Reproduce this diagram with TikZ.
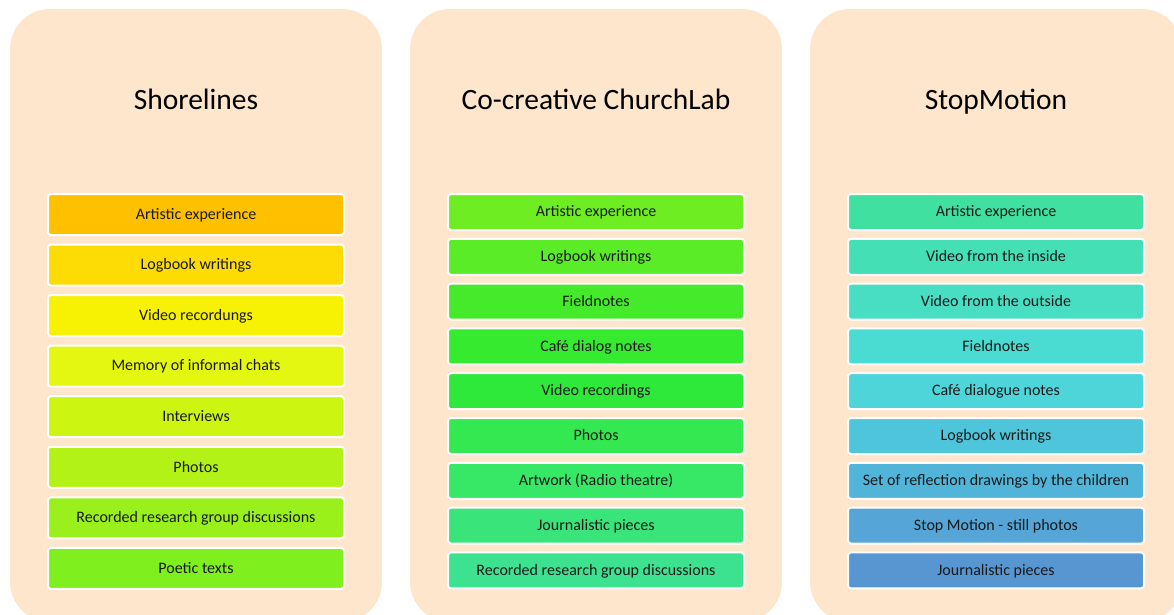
\documentclass[tikz,border=0pt]{standalone}
\usepackage{fontspec}
\setmainfont{Carlito}
\begin{document}
\begin{tikzpicture}[x=1pt,y=-1pt,
  panel/.style={fill=panelbg,rounded corners=40pt},
  title/.style={font=\fontsize{29.5}{32}\selectfont,anchor=base},
  item/.style={draw=white,line width=2pt,rounded corners=3pt,
    minimum width=296pt,inner sep=0pt,font=\fontsize{16}{18}\selectfont,
    text height=12.5pt,text depth=3pt,text=black!90,anchor=center},
  tall/.style={item,minimum height=41pt},
  short/.style={item,minimum height=36pt}]
\definecolor{panelbg}{HTML}{FEE6CC}
% Shorelines palette
\definecolor{sa}{HTML}{FFC000}
\definecolor{sb}{HTML}{FDDC05}
\definecolor{sc}{HTML}{F7F204}
\definecolor{sd}{HTML}{E4F710}
\definecolor{se}{HTML}{CCF512}
\definecolor{sf}{HTML}{B3F216}
\definecolor{sg}{HTML}{9AF01A}
\definecolor{sh}{HTML}{80EF1E}
% ChurchLab palette
\definecolor{ca}{HTML}{6EEE22}
\definecolor{cb}{HTML}{5AEC27}
\definecolor{cc}{HTML}{45EB2A}
\definecolor{cd}{HTML}{36EA2F}
\definecolor{ce}{HTML}{2EE83A}
\definecolor{cf}{HTML}{34E852}
\definecolor{cg}{HTML}{36E866}
\definecolor{ch}{HTML}{39E47A}
\definecolor{ci}{HTML}{3DE290}
% StopMotion palette
\definecolor{ma}{HTML}{40E0A0}
\definecolor{mb}{HTML}{45DFB5}
\definecolor{mc}{HTML}{48DEC4}
\definecolor{md}{HTML}{4ADCD2}
\definecolor{me}{HTML}{4ED5DA}
\definecolor{mf}{HTML}{4EC5DA}
\definecolor{mg}{HTML}{51B5D9}
\definecolor{mh}{HTML}{55A5D6}
\definecolor{mi}{HTML}{5896D2}

\useasboundingbox (0,0) rectangle (1174,615);
\begin{scope}
\clip (0,0) rectangle (1174,615);
\fill[panel] (10,9) rectangle (382,622);
\fill[panel] (410,9) rectangle (782,622);
\fill[panel] (810,9) rectangle (1182,622);
\end{scope}

\node[title] (t1) at (196,109.5) {Shorelines};
\node[title] (t2) at (596,109.5) {Co-creative ChurchLab};
\node[title] (t3) at (996,109.5) {StopMotion};

% Shorelines column
\foreach \txt/\col [count=\i from 0] in {
  Artistic experience/sa,
  Logbook writings/sb,
  Video recordungs/sc,
  Memory of informal chats/sd,
  Interviews/se,
  Photos/sf,
  Recorded research group discussions/sg,
  Poetic texts/sh}
  \node[tall,fill=\col] (s\i) at (196,214.5+50.55*\i) {\txt};

% Co-creative ChurchLab column
\foreach \txt/\col [count=\i from 0] in {
  Artistic experience/ca,
  Logbook writings/cb,
  Fieldnotes/cc,
  Café dialog notes/cd,
  Video recordings/ce,
  Photos/cf,
  Artwork (Radio theatre)/cg,
  Journalistic pieces/ch,
  Recorded research group discussions/ci}
  \node[short,fill=\col] (c\i) at (596,212+44.8*\i) {\txt};

% StopMotion column
\foreach \txt/\col [count=\i from 0] in {
  Artistic experience/ma,
  Video from the inside/mb,
  Video from the outside/mc,
  Fieldnotes/md,
  Café dialogue notes/me,
  Logbook writings/mf,
  Set of reflection drawings by the children/mg,
  Stop Motion - still photos/mh,
  Journalistic pieces/mi}
  \node[short,fill=\col] (m\i) at (996,212+44.8*\i) {\txt};
\end{tikzpicture}
\end{document}
